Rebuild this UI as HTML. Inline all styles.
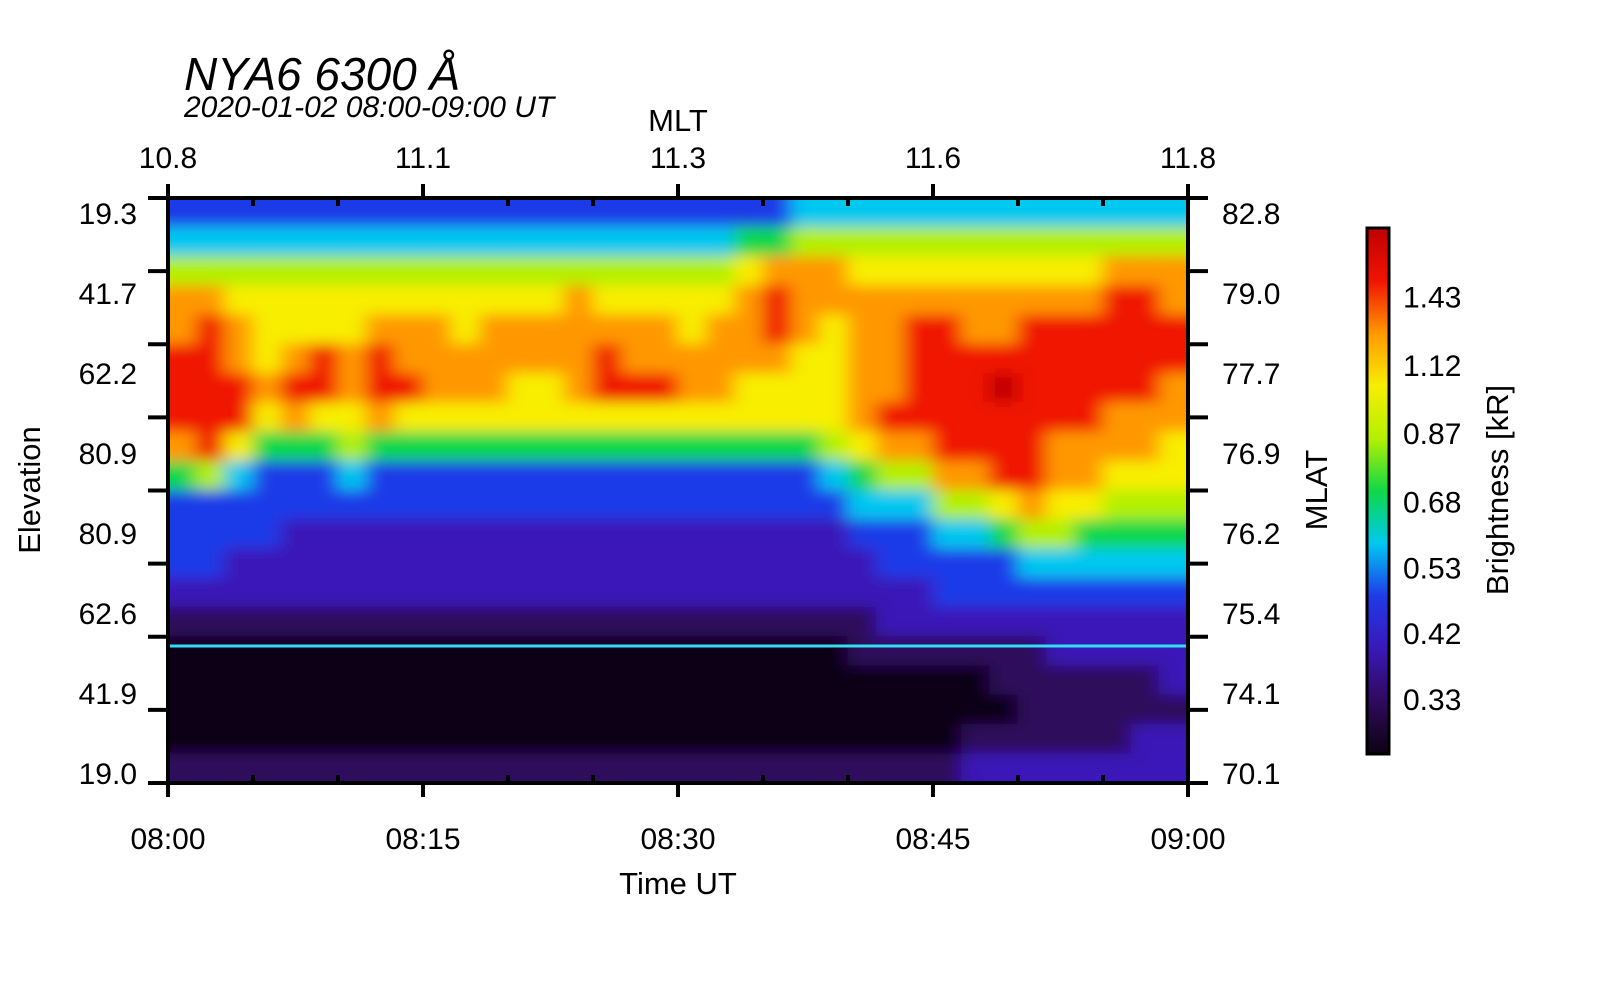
<!DOCTYPE html>
<html><head><meta charset="utf-8"><style>
html,body{margin:0;padding:0;background:#fff;}
svg{display:block;font-family:"Liberation Sans",Arial,sans-serif;}
</style></head><body>
<svg id="chart" width="1600" height="1000" viewBox="0 0 1600 1000" xmlns="http://www.w3.org/2000/svg">
<defs>
<clipPath id="plotclip"><rect x="168" y="198" width="1020" height="585"/></clipPath>
<filter id="soft" x="-10%" y="-10%" width="120%" height="120%"><feGaussianBlur stdDeviation="9 7"/></filter>
<linearGradient id="cbgrad" x1="0" y1="1" x2="0" y2="0"></linearGradient>
</defs>
<text x="184" y="90" font-size="46" font-style="italic">NYA6 6300 Å</text>
<text x="184" y="117" font-size="30" font-style="italic">2020-01-02 08:00-09:00 UT</text>
<text x="678" y="131" font-size="31" text-anchor="middle">MLT</text>
<text x="678" y="894" font-size="31" text-anchor="middle">Time UT</text>
<text transform="translate(40,490) rotate(-90)" font-size="31" text-anchor="middle">Elevation</text>
<text transform="translate(1327,490) rotate(-90)" font-size="31" text-anchor="middle">MLAT</text>
<text transform="translate(1508,490) rotate(-90)" font-size="31" text-anchor="middle">Brightness [kR]</text>
<g id="heat" clip-path="url(#plotclip)"></g>
<g id="axes"></g>
<g id="cbar"></g>
</svg>
<script>
// brightness level per time bin (column), rows top->bottom (20 rows)
const columns = [
[3,4,6,8,8,9,9,9,8,5,3,3,3,2,1,0,0,0,0,1],
[3,4,6,8,9,9,9,9,9,6,3,3,3,2,1,0,0,0,0,1],
[3,4,6,7,8,8,9,9,7,4,3,3,2,2,1,0,0,0,0,1],
[3,4,6,7,7,7,8,7,5,3,3,3,2,2,1,0,0,0,0,1],
[3,4,6,7,7,8,9,8,5,3,3,2,2,2,1,0,0,0,0,1],
[3,4,6,7,7,9,9,7,5,3,3,2,2,2,1,0,0,0,0,1],
[3,4,6,7,7,8,8,7,6,4,3,2,2,2,1,0,0,0,0,1],
[3,4,6,7,8,9,9,8,5,3,3,2,2,2,1,0,0,0,0,1],
[3,4,6,7,8,8,9,7,5,3,3,2,2,2,1,0,0,0,0,1],
[3,4,6,7,8,8,8,7,5,3,3,2,2,2,1,0,0,0,0,1],
[3,4,6,7,7,8,8,7,5,3,3,2,2,2,1,0,0,0,0,1],
[3,4,6,7,8,8,8,7,5,3,3,2,2,2,1,0,0,0,0,1],
[3,4,6,7,8,8,7,7,5,3,3,2,2,2,1,0,0,0,0,1],
[3,4,6,7,8,8,7,7,5,3,3,2,2,2,1,0,0,0,0,1],
[3,4,6,8,8,8,8,7,5,3,3,2,2,2,1,0,0,0,0,1],
[3,4,6,7,8,9,9,7,5,3,3,2,2,2,1,0,0,0,0,1],
[3,4,6,7,8,8,9,7,5,3,3,2,2,2,1,0,0,0,0,1],
[3,4,6,7,8,8,9,7,5,3,3,2,2,2,1,0,0,0,0,1],
[3,4,6,7,7,8,8,7,5,3,3,2,2,2,1,0,0,0,0,1],
[3,4,6,7,8,8,8,7,5,3,3,2,2,2,1,0,0,0,0,1],
[3,5,7,8,8,8,7,7,5,3,3,2,2,2,1,0,0,0,0,1],
[3,5,8,9,9,8,7,7,5,3,3,2,2,2,1,0,0,0,0,1],
[4,6,8,8,8,7,7,7,5,3,3,2,2,2,1,0,0,0,0,1],
[4,6,8,8,7,7,7,7,6,4,3,2,2,2,1,0,0,0,0,1],
[4,6,7,8,8,8,8,8,7,5,4,3,2,2,1,1,0,0,0,1],
[4,6,7,8,8,8,8,9,8,6,4,3,3,2,2,1,0,0,0,1],
[4,6,7,8,9,9,9,9,8,6,4,3,3,2,2,1,0,0,0,1],
[4,6,7,8,9,9,9,9,9,8,6,4,3,3,2,1,0,0,0,1],
[4,6,7,8,8,9,9,9,9,8,6,4,3,3,2,1,0,0,1,2],
[4,6,7,8,8,9,10,9,9,9,7,5,3,3,2,1,1,0,1,2],
[4,6,7,8,9,9,9,9,9,9,8,6,4,3,2,1,1,1,1,2],
[4,6,7,8,9,9,9,9,8,8,7,6,4,3,2,2,1,1,1,2],
[4,6,7,8,9,9,9,9,8,8,7,5,4,3,2,2,1,1,1,2],
[4,6,8,9,9,9,9,8,8,7,6,5,4,3,2,2,1,1,1,2],
[4,6,8,9,9,9,9,8,8,7,6,5,4,3,2,2,1,1,2,2],
[4,6,8,8,9,9,8,8,7,7,6,5,4,3,2,2,2,1,2,2]
];
const levelColors = ["#0c0312","#2e0a5c","#3a18b8","#1f3ae8","#00c8f0","#10d848","#b4f000","#f8ee00","#ff9800","#f01400","#c00000"];
const timeLabels = ["08:00","08:15","08:30","08:45","09:00"];
const mltLabels = ["10.8","11.1","11.3","11.6","11.8"];
const elevLabels = ["19.3","41.7","62.2","80.9","80.9","62.6","41.9","19.0"];
const mlatLabels = ["82.8","79.0","77.7","76.9","76.2","75.4","74.1","70.1"];
const cbarLabels = ["1.43","1.12","0.87","0.68","0.53","0.42","0.33"];
const cbarLabelFrac = [0.13,0.26,0.39,0.52,0.645,0.77,0.895];

const NS="http://www.w3.org/2000/svg";
function mk(tag, attrs, parent){const e=document.createElementNS(NS,tag);for(const k in attrs)e.setAttribute(k,attrs[k]);parent.appendChild(e);return e;}
const X0=168,X1=1188,Y0=198,Y1=783;
const nC=columns.length,nR=columns[0].length;
const xOf=i=>X0+(X1-X0)*i/nC;
const yOf=j=>Y0+(Y1-Y0)*j/nR;
const tx=f=>X0+(X1-X0)*f;
const PAD=30;

const heat=document.getElementById('heat');
const hg=mk('g',{filter:'url(#soft)'},heat);
const cw=(X1-X0)/nC, ch=(Y1-Y0)/nR;
columns.forEach((col,i)=>{col.forEach((v,j)=>{
  let x=xOf(i)-0.5,y=yOf(j)-0.5,w=cw+1,h=ch+1;
  if(i===0){x-=PAD;w+=PAD;}
  if(i===nC-1){w+=PAD;}
  if(j===0){y-=PAD;h+=PAD;}
  if(j===nR-1){h+=PAD;}
  const r=mk('rect',{x:x,y:y,width:w,height:h,fill:levelColors[v]},hg);
  
  
});});
const cl=mk('line',{x1:X0,x2:X1,y1:646,y2:646,stroke:'#30e0f0','stroke-width':3},heat);



const ax=document.getElementById('axes');
const frame=mk('rect',{x:X0,y:Y0,width:X1-X0,height:Y1-Y0,fill:'none',stroke:'#000','stroke-width':4},ax);


for(let k=0;k<=12;k++){
  const x=tx(k/12),major=k%3===0;
  mk('line',{x1:x,x2:x,y1:Y1-(major?0:8),y2:Y1+(major?14:0),stroke:'#000','stroke-width':4},ax);
  mk('line',{x1:x,x2:x,y1:Y0+(major?0:8),y2:Y0-(major?14:0),stroke:'#000','stroke-width':4},ax);
}
timeLabels.forEach((t,i)=>{
  const e=mk('text',{x:tx(i/4),y:849,'font-size':30,'text-anchor':'middle'},ax);e.textContent=t;
  
  
});
mltLabels.forEach((t,i)=>{
  const e=mk('text',{x:tx(i/4),y:168,'font-size':30,'text-anchor':'middle'},ax);e.textContent=t;
  
  
});
for(let k=0;k<=8;k++){
  const y=Y0+(Y1-Y0)*k/8;
  mk('line',{x1:X0-20,x2:X0,y1:y,y2:y,stroke:'#000','stroke-width':4},ax);
  mk('line',{x1:X1,x2:X1+20,y1:y,y2:y,stroke:'#000','stroke-width':4},ax);
}
const labY=f=>213+(773-213)*f;
elevLabels.forEach((t,i)=>{
  const e=mk('text',{x:137,y:labY(i/7)+11,'font-size':30,'text-anchor':'end'},ax);e.textContent=t;
  
  
});
mlatLabels.forEach((t,i)=>{
  const e=mk('text',{x:1222,y:labY(i/7)+11,'font-size':30},ax);e.textContent=t;
  
  
});
// colorbar (continuous gradient from levelColors)
const grad=document.getElementById('cbgrad');
levelColors.forEach((c,i)=>{mk('stop',{offset:(i/(levelColors.length-1)),'stop-color':c},grad);});
const cb=document.getElementById('cbar');
const CX=1367,CW=22,CY0=228,CY1=754;
const cbr=mk('rect',{x:CX,y:CY0,width:CW,height:CY1-CY0,fill:'url(#cbgrad)',stroke:'#000','stroke-width':3},cb);


cbarLabels.forEach((t,i)=>{
  const y=CY0+(CY1-CY0)*cbarLabelFrac[i];
  const e=mk('text',{x:1403,y:y+11,'font-size':30},cb);e.textContent=t;
  
  
});
</script>
</body></html>
